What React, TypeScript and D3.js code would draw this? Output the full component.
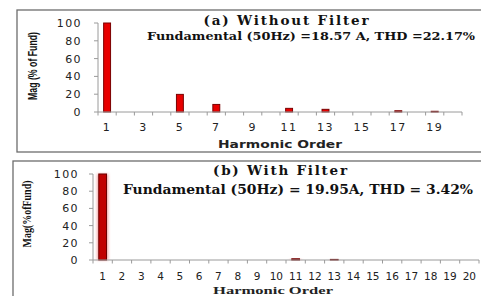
import * as d3 from "d3";
import { useEffect, useRef } from "react";

// harmonic orders 1..20
const ORDERS = d3.range(1, 21).map(String);
const MAG_A = [100, 0, 0, 0, 19.8, 0, 8.5, 0, 0, 0, 4.1, 0, 3.0, 0, 0, 0, 1.4, 0, 0.8, 0];
const MAG_B = [100, 0, 0, 0, 0, 0, 0, 0, 0, 0, 1.4, 0, 0.7, 0, 0, 0, 0, 0, 0, 0];
const Y_TICKS = [0, 20, 40, 60, 80, 100];
const LABELS_A = ["1", "3", "5", "7", "9", "11", "13", "15", "17", "19"];
const LABELS_B = ORDERS;

const TITLE_A = "(a) Without Filter";
const SUB_A = "Fundamental (50Hz) =18.57 A, THD =22.17%";
const TITLE_B = "(b) With Filter";
const SUB_B = "Fundamental (50Hz) = 19.95A, THD = 3.42%";

const SANS = "DejaVu Sans, Verdana, sans-serif";
const SERIF = "DejaVu Serif, serif";
const TIMES = "Liberation Serif, Times New Roman, serif";

export default function App() {
  const svgRef = useRef<SVGSVGElement>(null);

  useEffect(() => {
    const svg = d3.select(svgRef.current);
    svg.selectAll("*").remove();

    const defs = svg.append("defs");
    const glow = defs.append("filter").attr("id", "glow")
      .attr("x", "-60%").attr("y", "-10%").attr("width", "220%").attr("height", "120%");
    glow.append("feGaussianBlur").attr("stdDeviation", 1.6);

    const panel = (o: any) => {
      const g = svg.append("g");
      // frame
      g.append("rect")
        .attr("x", o.frame[0]).attr("y", o.frame[1])
        .attr("width", 600).attr("height", o.frame[2])
        .attr("fill", "none").attr("stroke", "#6d6d6d").attr("stroke-width", 1.3);

      const x = d3.scaleBand().domain(ORDERS).range([o.x0, o.x1]).paddingInner(0).paddingOuter(0);
      const y = d3.scaleLinear().domain([0, 100]).range([o.y0, o.y1]);

      // y axis
      g.append("line").attr("x1", o.x0).attr("x2", o.x0).attr("y1", y(0)).attr("y2", y(100))
        .attr("stroke", "#9a9a9a").attr("stroke-width", 1);
      g.selectAll(".yt").data(Y_TICKS).enter().append("line")
        .attr("x1", o.x0 - 4).attr("x2", o.x0).attr("y1", (d) => y(d)).attr("y2", (d) => y(d))
        .attr("stroke", "#9a9a9a");
      g.selectAll(".yl").data(Y_TICKS).enter().append("text")
        .attr("x", o.ylx).attr("y", (d) => y(d) + 4)
        .attr("text-anchor", "end")
        .style("font-family", SANS).style("font-size", "11px").style("fill", "#222")
        .style("letter-spacing", "1.4px")
        .text((d) => d);

      // bars
      const bars = g.selectAll(".bar").data(o.values).enter();
      if (o.glow) {
        bars.append("rect")
          .attr("x", (_d: any, i: number) => x(ORDERS[i])! + x.bandwidth() * 0.22)
          .attr("width", x.bandwidth() * 0.56)
          .attr("y", (d: any) => y(d))
          .attr("height", (d: any) => y(0) - y(d))
          .attr("fill", "#f08080").attr("opacity", 0.8)
          .attr("filter", "url(#glow)");
      }
      bars.append("rect")
        .attr("x", (_d: any, i: number) => x(ORDERS[i])! + x.bandwidth() * o.pad)
        .attr("width", x.bandwidth() * (1 - 2 * o.pad))
        .attr("y", (d: any) => y(d))
        .attr("height", (d: any) => y(0) - y(d))
        .attr("fill", o.fill).attr("stroke", o.stroke).attr("stroke-width", (d: any) => d > 0 ? 1 : 0);

      // x axis
      g.append("line").attr("x1", o.x0).attr("x2", o.x1).attr("y1", y(0)).attr("y2", y(0))
        .attr("stroke", "#9a9a9a");
      const edges = ORDERS.map((c) => x(c)!).concat([o.x1]);
      g.selectAll(".xt").data(edges).enter().append("line")
        .attr("x1", (d) => d).attr("x2", (d) => d).attr("y1", y(0)).attr("y2", y(0) + 3.5)
        .attr("stroke", "#9a9a9a");
      g.selectAll(".xl").data(o.labels).enter().append("text")
        .attr("x", (d: any) => x(d)! + x.bandwidth() / 2)
        .attr("y", o.xly)
        .attr("text-anchor", "middle")
        .style("font-family", SANS).style("font-size", o.xlSize).style("fill", "#222")
        .style("letter-spacing", o.xlSpacing)
        .text((d: any) => d);

      // axis titles
      g.append("text")
        .attr("transform", `translate(${o.ytx},${o.yty}) rotate(-90)`)
        .attr("text-anchor", "middle")
        .style("font-family", o.ytFont).style("font-weight", "bold")
        .style("font-size", o.ytSize).style("fill", "#111")
        .attr("textLength", o.ytLen).attr("lengthAdjust", "spacingAndGlyphs")
        .text(o.yTitle);
      g.append("text")
        .attr("x", o.xtx).attr("y", o.xty)
        .attr("text-anchor", "middle")
        .style("font-family", o.xtFont).style("font-weight", "bold")
        .style("font-size", o.xtSize).style("fill", "#222")
        .attr("textLength", o.xtLen).attr("lengthAdjust", "spacingAndGlyphs")
        .text("Harmonic Order");

      // titles
      g.append("text")
        .attr("x", o.tx).attr("y", o.ty).attr("text-anchor", "middle")
        .style("font-family", SERIF).style("font-weight", "bold")
        .style("font-size", "13.5px").style("fill", "#111")
        .attr("textLength", o.tLen).attr("lengthAdjust", "spacing")
        .text(o.title);
      g.append("text")
        .attr("x", o.sx).attr("y", o.sy)
        .style("font-family", SERIF).style("font-weight", "bold")
        .style("font-size", o.sSize).style("fill", "#111")
        .attr("textLength", o.sLen).attr("lengthAdjust", "spacingAndGlyphs")
        .text(o.sub);
    };

    panel({
      frame: [17, 10, 142],
      x0: 98, x1: 462, y0: 112, y1: 23, ylx: 82,
      values: MAG_A, fill: "#e80000", stroke: "#7a0000", pad: 0.31, glow: false,
      labels: LABELS_A, xly: 131, xlSize: "11px", xlSpacing: "1.5px",
      yTitle: "Mag (% of Fund)", ytx: 37, yty: 66, ytFont: "Liberation Sans Narrow, Liberation Sans, sans-serif",
      ytSize: "13px", ytLen: 68,
      xtx: 280, xty: 148, xtFont: SANS, xtSize: "11px", xtLen: 124,
      title: TITLE_A, tx: 286, ty: 25, tLen: 165,
      sub: SUB_A, sx: 147, sy: 40, sSize: "11px", sLen: 328,
    });

    panel({
      frame: [13, 161, 200],
      x0: 93, x1: 479, y0: 260, y1: 174, ylx: 79,
      values: MAG_B, fill: "#c00000", stroke: "#6a0000", pad: 0.3, glow: true,
      labels: LABELS_B, xly: 280, xlSize: "10.5px", xlSpacing: "0px",
      yTitle: "Mag(%ofFund)", ytx: 31, yty: 214, ytFont: TIMES,
      ytSize: "13px", ytLen: 67,
      xtx: 273, xty: 294, xtFont: TIMES, xtSize: "10.5px", xtLen: 120,
      title: TITLE_B, tx: 280, ty: 175, tLen: 134,
      sub: SUB_B, sx: 123, sy: 194, sSize: "12px", sLen: 350,
    });
  }, []);

  return (
    <svg ref={svgRef} width={481} height={296}
      style={{ position: "absolute", left: 0, top: 0, background: "#fff" }} />
  );
}
